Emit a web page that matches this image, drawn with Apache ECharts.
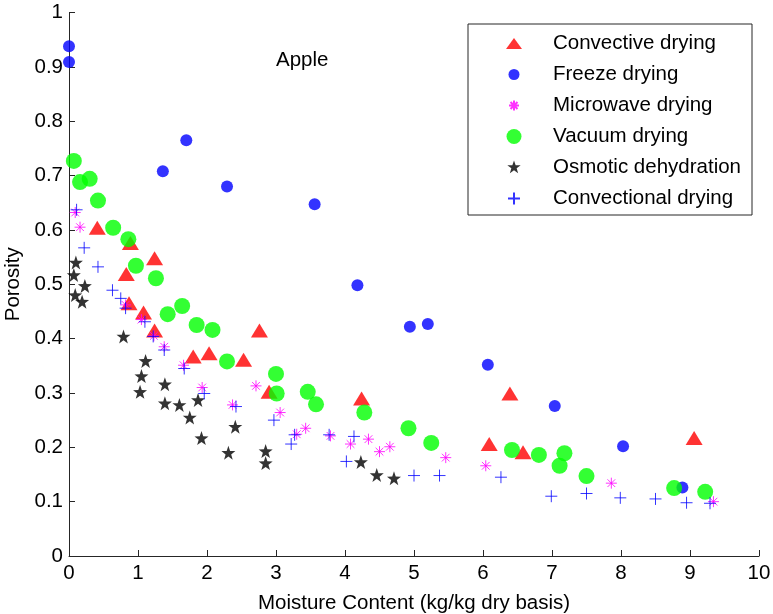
<!DOCTYPE html>
<html>
<head>
<meta charset="utf-8">
<script src="https://cdn.jsdelivr.net/npm/echarts@6/dist/echarts.min.js"></script>
<style>html,body{margin:0;padding:0;background:#fff;}#c{width:773px;height:614px;}</style>
</head>
<body>
<div id="c"></div>
<script>
// ---- Data ----
const seriesNames = ['Convective drying','Freeze drying','Microwave drying','Vacuum drying','Osmotic dehydration','Convectional drying'];
const chartTitle = 'Apple';
const xAxisName = 'Moisture Content (kg/kg dry basis)';
const yAxisName = 'Porosity';

const convective = [[0.41,0.604],[0.89,0.576],[0.83,0.519],[1.24,0.548],[0.87,0.465],[1.08,0.448],[1.24,0.415],[1.80,0.367],[2.03,0.373],[2.53,0.361],[2.76,0.415],[2.90,0.302],[4.24,0.290],[6.09,0.206],[6.39,0.299],[6.58,0.191],[9.06,0.217]];
const freeze = [[0.0,0.938],[0.0,0.909],[1.36,0.708],[1.70,0.765],[2.29,0.680],[3.56,0.647],[4.18,0.498],[4.94,0.422],[5.20,0.427],[6.07,0.352],[7.04,0.276],[8.03,0.202],[8.89,0.126]];
const microwave = [[0.09,0.632],[0.16,0.605],[0.82,0.462],[1.05,0.435],[1.23,0.405],[1.38,0.385],[1.66,0.351],[1.93,0.310],[2.37,0.278],[2.71,0.313],[3.06,0.264],[3.30,0.224],[3.43,0.235],[3.79,0.221],[4.08,0.206],[4.34,0.215],[4.50,0.192],[4.65,0.201],[5.46,0.181],[6.04,0.166],[7.86,0.134],[9.34,0.100]];
const vacuum = [[0.07,0.727],[0.16,0.688],[0.30,0.694],[0.42,0.654],[0.64,0.604],[0.86,0.583],[0.97,0.534],[1.26,0.511],[1.43,0.445],[1.64,0.460],[1.85,0.425],[2.08,0.416],[2.29,0.358],[3.00,0.335],[3.01,0.299],[3.46,0.302],[3.58,0.279],[4.28,0.264],[4.92,0.235],[5.25,0.208],[6.42,0.195],[6.81,0.186],[7.18,0.189],[7.11,0.166],[7.50,0.147],[8.77,0.125],[9.22,0.118]];
const osmotic = [[0.10,0.540],[0.07,0.517],[0.23,0.497],[0.09,0.480],[0.19,0.468],[0.79,0.404],[1.11,0.359],[1.05,0.331],[1.03,0.302],[1.39,0.316],[1.39,0.281],[1.60,0.278],[1.87,0.287],[1.75,0.255],[1.92,0.217],[2.41,0.238],[2.31,0.190],[2.85,0.193],[2.85,0.171],[4.23,0.173],[4.46,0.149],[4.71,0.143]];
const convectional = [[0.11,0.637],[0.22,0.567],[0.42,0.532],[0.63,0.489],[0.75,0.474],[0.82,0.456],[1.10,0.431],[1.22,0.404],[1.38,0.379],[1.67,0.345],[1.96,0.299],[2.42,0.275],[2.97,0.250],[3.22,0.206],[3.27,0.223],[3.77,0.223],[4.13,0.220],[4.02,0.174],[5.00,0.148],[5.37,0.148],[6.26,0.145],[6.99,0.110],[7.50,0.115],[7.99,0.107],[8.50,0.105],[8.95,0.098],[9.29,0.097]];

// ---- Styling ----
const FONT = '"Liberation Sans", Arial, Helvetica, sans-serif';
const FS = 20.5;
const AX = '#262626';
const STAR = 'path://M0,-10 L2.35,-3.24 L9.51,-3.09 L3.8,1.24 L5.88,8.09 L0,4 L-5.88,8.09 L-3.8,1.24 L-9.51,-3.09 L-2.35,-3.24 Z';
const PLUS = 'path://M0,-1 L0,1 M-1,0 L1,0';
const ASTER = 'path://M0,-1 L0,1 M-1,0 L1,0 M-0.7,-0.7 L0.7,0.7 M-0.7,0.7 L0.7,-0.7';

// legend icons padded to a common 16x16 box
const legIcons = [
  'path://M-8,-8 M8,8 M0,-5.5 L8,5.5 L-8,5.5 Z',
  'path://M-8,-8 M8,8 M-5.5,0 A5.5,5.5 0 1,0 5.5,0 A5.5,5.5 0 1,0 -5.5,0 Z',
  'path://M-8,-8 M8,8 M0,-5 L0,5 M-5,0 L5,0 M-3.5,-3.5 L3.5,3.5 M-3.5,3.5 L3.5,-3.5',
  'path://M-8,-8 M8,8 M-7.5,0 A7.5,7.5 0 1,0 7.5,0 A7.5,7.5 0 1,0 -7.5,0 Z',
  'path://M-8,-8 M8,8 M0,-7 L1.65,-2.27 L6.66,-2.16 L2.66,0.87 L4.12,5.66 L0,2.8 L-4.12,5.66 L-2.66,0.87 L-6.66,-2.16 L-1.65,-2.27 Z',
  'path://M-8,-8 M8,8 M0,-6 L0,6 M-6,0 L6,0'
];

function sc(name, data, symbol, size, color, extra) {
  return Object.assign({
    type: 'scatter', name: name, data: data, symbol: symbol, symbolSize: size,
    itemStyle: { color: color },
    emphasis: { disabled: true }, animation: false
  }, extra || {});
}

const series = [
  sc(seriesNames[0], convective, 'triangle', [17, 14], '#ff0000'),
  sc(seriesNames[1], freeze, 'circle', 12, '#0000ff'),
  sc(seriesNames[2], microwave, ASTER, 11, '#ff00ff', { itemStyle: { color: '#ff00ff', borderColor: '#ff00ff', borderWidth: 1 } }),
  sc(seriesNames[3], vacuum, 'circle', 16, '#00ff00'),
  sc(seriesNames[4], osmotic, STAR, 14, '#000000'),
  sc(seriesNames[5], convectional, PLUS, 12, '#0000ff', { itemStyle: { color: '#0000ff', borderColor: '#0000ff', borderWidth: 1 } })
];

const axisCommon = {
  type: 'value',
  axisLine: { show: true, lineStyle: { color: AX, width: 1 } },
  axisTick: { show: true, inside: true, length: 6, lineStyle: { color: AX } },
  splitLine: { show: false },
  axisLabel: { color: '#000', fontSize: FS, fontFamily: FONT },
  nameLocation: 'middle',
  nameTextStyle: { color: '#000', fontSize: FS, fontFamily: FONT }
};

const chart = echarts.init(document.getElementById('c'), null, { renderer: 'canvas' });
chart.setOption({
  backgroundColor: '#fff',
  animation: false,
  title: {
    text: chartTitle, left: 276, top: 50, padding: 0,
    textStyle: { color: '#000', fontSize: FS, fontWeight: 'normal', fontFamily: FONT }
  },
  grid: { left: 69, right: 14, top: 12.5, bottom: 58, containLabel: false, outerBoundsMode: 'none' },
  xAxis: Object.assign({}, axisCommon, {
    min: 0, max: 10, interval: 1,
    name: xAxisName, nameGap: 37,
    axisLabel: Object.assign({}, axisCommon.axisLabel, { margin: 7 })
  }),
  yAxis: Object.assign({}, axisCommon, {
    min: 0, max: 1, interval: 0.1,
    name: yAxisName, nameGap: 44,
    axisLabel: Object.assign({}, axisCommon.axisLabel, { margin: 6 })
  }),
  legend: {
    orient: 'vertical', left: 468, top: 24,
    padding: [9, 11, 6, 37],
    itemWidth: 16, itemHeight: 16, itemGap: 10,
    borderColor: AX, borderWidth: 1, backgroundColor: '#fff',
    selectedMode: false,
    textStyle: { color: '#000', fontSize: FS, fontFamily: FONT, lineHeight: 20, padding: [0, 0, 0, 26] },
    data: seriesNames.map((n, i) => ({ name: n, icon: legIcons[i] }))
  },
  series: series
});
</script>
</body>
</html>
